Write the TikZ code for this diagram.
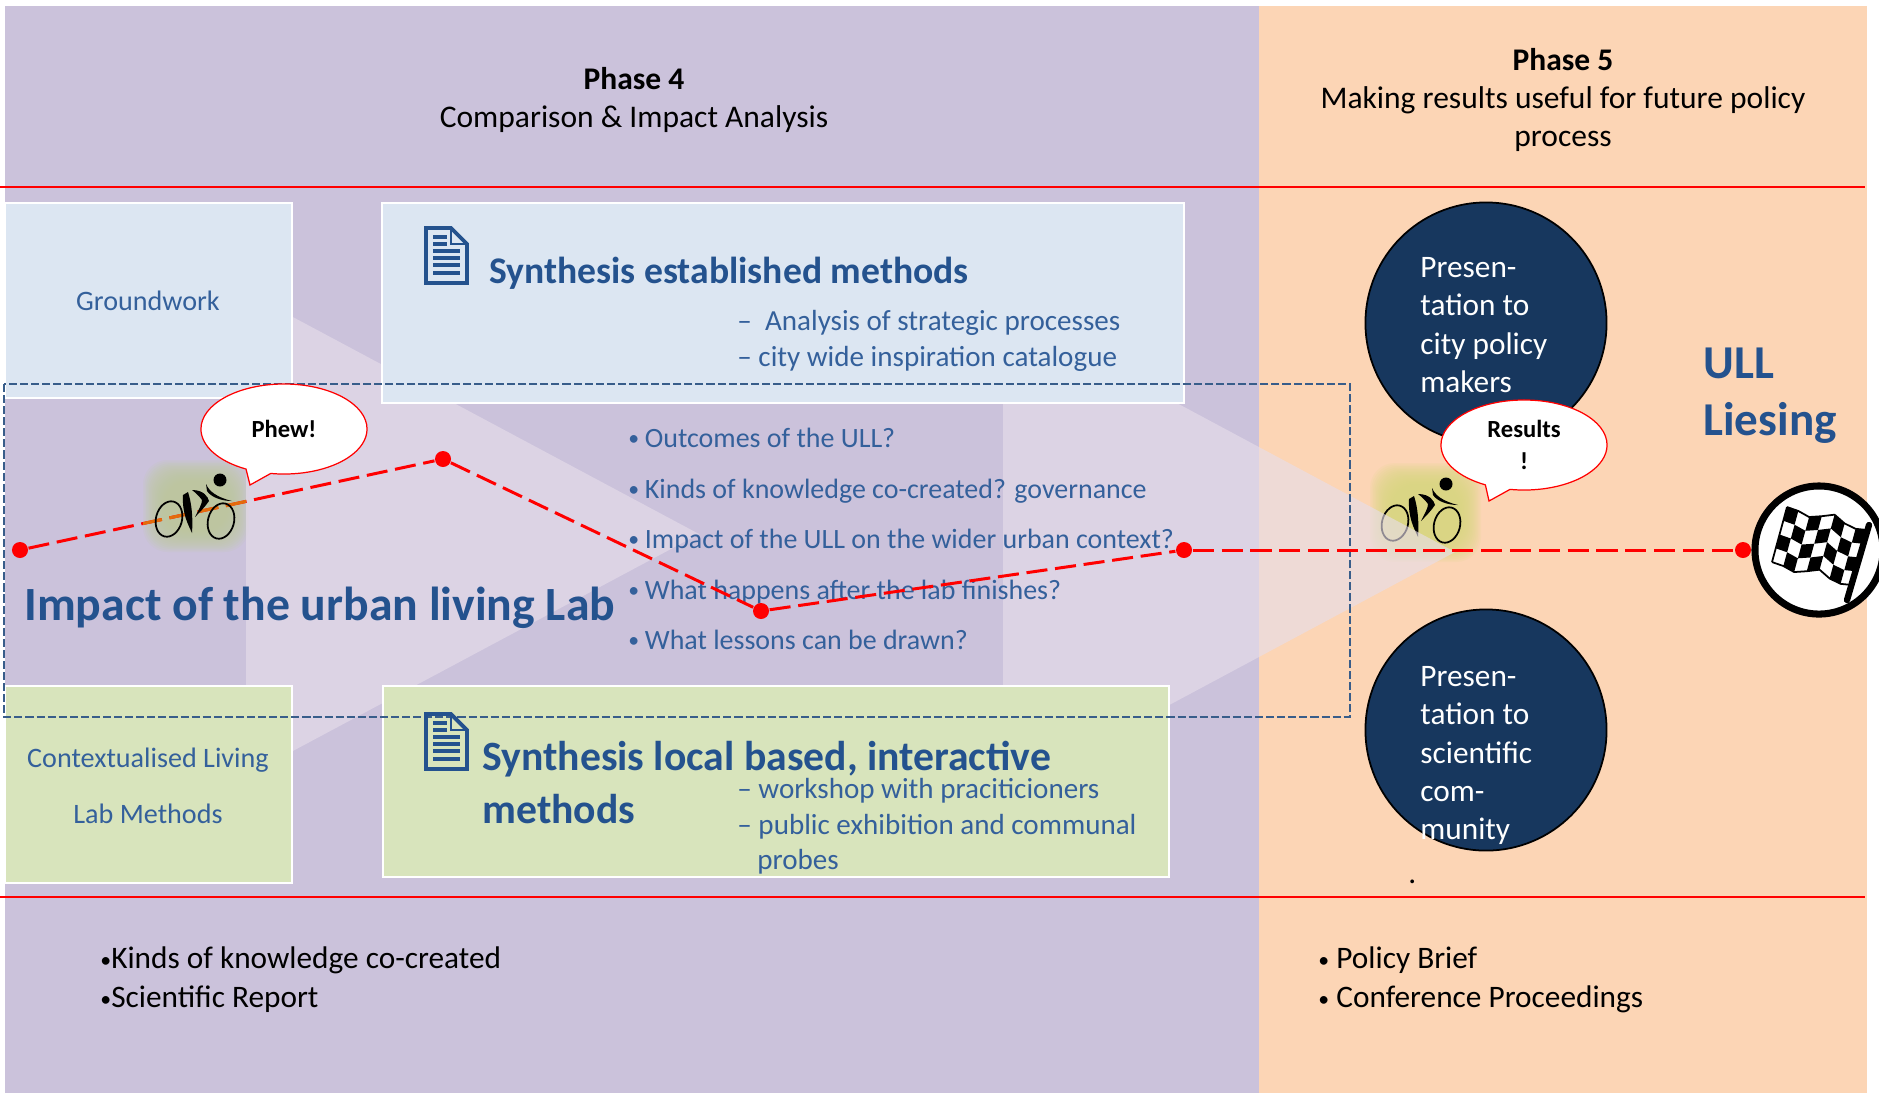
\documentclass[tikz,border=0pt]{standalone}
\usepackage{fontspec}
\setmainfont{Carlito}
\usetikzlibrary{shapes.callouts}
\definecolor{phasefour}{HTML}{CBC2DB}
\definecolor{phasefive}{HTML}{FCD5B5}
\definecolor{boxblue}{HTML}{DCE6F2}
\definecolor{boxgreen}{HTML}{D8E4BC}
\definecolor{darkcircle}{HTML}{17375E}
\definecolor{headblue}{HTML}{24528E}
\definecolor{bodyblue}{HTML}{34609B}
\definecolor{chevron}{RGB}{231,222,235}
\definecolor{glowone}{HTML}{BDCD9A}
\definecolor{glowtwo}{HTML}{D8D97F}
\definecolor{dashblue}{HTML}{385D8A}
\newcommand{\pxfont}[1]{\fontsize{#1}{#1}\selectfont}
\newcommand{\tinybullet}{\raisebox{.5pt}{\pxfont{6.2pt}•}}
\tikzset{
  cyclist/.pic={
    \draw[black,line width=.5pt] (0,0) ellipse [x radius=13,y radius=18,rotate=-15];
    \draw[black,line width=.5pt] (52,2) ellipse [x radius=13,y radius=18,rotate=-15];
    \fill[black] (51,-39) circle (6.5);
    \fill[black] (14,-24) .. controls (13,-5) and (19,5) .. (23,14) .. controls (24,0) and (23,-15) .. (19,-27) -- cycle;
    \fill[black] (23,-29) .. controls (35,-29) and (39,-22) .. (40,-18) .. controls (36,-12) and (30,-6) .. (26,-2) .. controls (30,-10) and (33,-15) .. (33,-19) .. controls (30,-23) and (27,-26) .. (23,-29);
    \fill[black] (37,-35) .. controls (40,-28) and (47,-22) .. (63,-18) .. controls (52,-18) and (42,-22) .. (38,-28) -- cycle;
  },
  docicon/.pic={
    \draw[headblue,line width=1.1pt,fill=none] (0,0) -- (25,0) -- (41,16) -- (41,55) -- (0,55) -- cycle;
    \draw[headblue,line width=.6pt] (25,0) -- (25,16) -- (41,16);
    \foreach \ya/\xb in {9/21,16/21,23/34,30/34,37/34,45/34}
      \draw[headblue,line width=1pt] (7,\ya) -- (\xb,\ya);
  }
}
\begin{document}
\begin{tikzpicture}[x=0.01cm,y=-0.01cm,
  head text/.style={font=\pxfont{8.96pt},black,align=center},
  body text/.style={font=\pxfont{8.27pt},bodyblue,anchor=west,text height=5.8pt,text depth=1.7pt},
  question text/.style={font=\pxfont{7.95pt},bodyblue,anchor=west,text height=5.6pt,text depth=1.6pt},
  box text/.style={font=\pxfont{8pt},bodyblue},
  title text/.style={font=\bfseries\pxfont{10.7pt},headblue,anchor=west},
  list text/.style={font=\pxfont{8.9pt},black,anchor=west,text height=6.2pt,text depth=1.8pt},
  circle text/.style={font=\pxfont{8.9pt},white,anchor=west,text height=6.2pt,text depth=1.8pt},
  bubble/.style={ellipse callout,draw=red,fill=white,line width=.35pt,minimum width=1.66cm,minimum height=.9cm,inner sep=0pt,callout pointer arc=18,font=\bfseries\pxfont{7pt},align=center},
  stop/.style={circle,fill=red,inner sep=0pt,minimum size=.16cm},
  trail/.style={red,line width=.85pt,dash pattern=on 6pt off 2.2pt},
  rule/.style={red,line width=.45pt},
  box/.style={draw=white,line width=.45pt}]
  \clip (0,0) rectangle (1879,1093);
  \fill[white] (0,0) rectangle (1879,1093);
  \fill[phasefour] (5,6) rectangle (1259,1093);
  \fill[phasefive] (1259,6) rectangle (1867,1093);

  % glow under the overlay
  \foreach \d in {0,1.5,...,21} {
    \fill[glowone,opacity=.12,rounded corners=7pt] (143+\d,460+\d) rectangle (249-\d,552-\d);
    \fill[glowtwo,opacity=.12,rounded corners=7pt] (1370+\d,463+\d) rectangle (1481-\d,562-\d);
  }
  \pic at (1395,523) {cyclist};

  \fill[chevron,opacity=.62] (246,292) -- (699,534) -- (246,776) -- cycle;
  \fill[chevron,opacity=.62] (1003,310) -- (1455,552) -- (1003,794) -- cycle;

  \draw[box,fill=boxblue] (5,203) rectangle (292,398);
  \draw[box,fill=boxblue] (382,203) rectangle (1184,403);
  \draw[box,line width=.8pt,fill=boxgreen] (5,686) rectangle (292,883);
  \draw[box,fill=boxgreen] (383,686) rectangle (1169,877);

  \draw[rule] (0,187) -- (1865,187);
  \draw[rule] (0,897) -- (1865,897);

  \draw[dashblue,line width=.75pt,dash pattern=on 2.3pt off .85pt] (4,384) rectangle (1350,717);

  \node[circle,fill=darkcircle,draw=black,line width=.5pt,minimum size=2.41cm] (cityring) at (1486,323) {};
  \node[circle,fill=darkcircle,draw=black,line width=.5pt,minimum size=2.41cm] (sciencering) at (1486,730) {};

  \pic at (426,228) {docicon};
  \pic at (426,714) {docicon};

  \node[head text] (phasefourtext) at (634,100) {\textbf{Phase 4}\\[1.9pt]Comparison \& Impact Analysis};
  \node[head text] (phasefivetext) at (1563,100) {\textbf{Phase 5}\\[1.9pt]Making results useful for future policy\\[1.9pt]process};

  \node[box text] (groundwork) at (148,301) {Groundwork};
  \node[box text] (contextone) at (148,760) {Contextualised Living};
  \node[box text] (contexttwo) at (148,814) {Lab Methods};

  \node[title text] (synthone) at (477,273) {Synthesis established methods};
  \node[body text] (strategic) at (725,323) {–\ \ Analysis of strategic processes};
  \node[body text] (catalogue) at (725,359) {– city wide inspiration catalogue};

  \node[question text] (qone) at (616,440) {\tinybullet\hspace{1.6pt}Outcomes of the ULL?};
  \node[question text] (qtwo) at (616,491) {\tinybullet\hspace{1.6pt}Kinds of knowledge co-created? governance};
  \node[question text] (qthree) at (616,541) {\tinybullet\hspace{1.6pt}Impact of the ULL on the wider urban context?};
  \node[question text] (qfour) at (616,592) {\tinybullet\hspace{1.6pt}What happens after the lab finishes?};
  \node[question text] (qfive) at (616,642) {\tinybullet\hspace{1.6pt}What lessons can be drawn?};

  \node[font=\bfseries\pxfont{13.57pt},headblue,anchor=west] (impact) at (12,608) {Impact of the urban living Lab};

  \node[title text,font=\bfseries\pxfont{11.85pt}] (synthtwo) at (470,759) {Synthesis local based, interactive};
  \node[title text,font=\bfseries\pxfont{11.85pt}] (synththree) at (470,809) {methods};
  \node[body text] (workshop) at (725,791) {– workshop with praciticioners};
  \node[body text] (exhibition) at (725,827) {– public exhibition and communal};
  \node[body text] (probes) at (745,862) {probes};

  \node[list text] (kinds) at (88,961) {\tinybullet Kinds of knowledge co-created};
  \node[list text] (report) at (88,1000) {\tinybullet Scientific Report};
  \node[list text] (brief) at (1306,961) {\tinybullet\ Policy Brief};
  \node[list text] (proceedings) at (1306,1000) {\tinybullet\ Conference Proceedings};

  \node[circle text] (cone) at (1408,270) {Presen-};
  \node[circle text] (ctwo) at (1408,308) {tation to};
  \node[circle text] (cthree) at (1408,347) {city policy};
  \node[circle text] (cfour) at (1408,385) {makers};
  \node[circle text] (sone) at (1408,679) {Presen-};
  \node[circle text] (stwo) at (1408,717) {tation to};
  \node[circle text] (sthree) at (1408,756) {scientific};
  \node[circle text] (sfour) at (1408,794) {com-};
  \node[circle text] (sfive) at (1408,832) {munity};
  \node[list text] (dot) at (1396,876) {.};

  \node[font=\bfseries\pxfont{13.4pt},headblue,anchor=west] (ull) at (1691,363) {ULL};
  \node[font=\bfseries\pxfont{13.4pt},headblue,anchor=west] (liesing) at (1691,423) {Liesing};

  \node[bubble,callout absolute pointer={(250,485)}] (phew) at (284,429) {Phew!};
  \node[bubble,callout absolute pointer={(1489,501)}] (results) at (1524,445) {Results\\[2.2pt]!};

  % route of the rider
  \node[stop] (start) at (20,550) {};
  \node[stop] (peak) at (443,459) {};
  \node[stop] (low) at (761,611) {};
  \node[stop] (flat) at (1184,550) {};
  \node[stop] (finish) at (1743,550) {};
  \path[trail]
    (start) edge (peak)
    (peak) edge (low)
    (low) edge (flat)
    (flat) edge (finish);
  \begin{scope}
    \clip (143,460) rectangle (246,552);
    \draw[trail,color={rgb,255:red,228;green,108;blue,10}] (start) -- (peak);
  \end{scope}
  \pic at (169,519) {cyclist};

  % finish flag
  \node[circle,fill=white,draw=black,line width=2pt,minimum size=1.28cm] (flagring) at (1819,550) {};
  \begin{scope}[shift={(1787,507)},x={(.117cm,-.026cm)},y={(-.0375cm,-.1375cm)}]
    \foreach \i/\a/\b in {0/0/.1,1/.1/.35,2/.35/.1,3/.1/-.2,4/-.2/.25,5/.25/.45,6/.45/.35} {
      \foreach \j in {0,1,2,3} {
        \pgfmathtruncatemacro{\cell}{mod(\i+\j,2)}
        \ifnum\cell=0
          \fill[black] (\i,\j+\a) -- (\i+1,\j+\b) -- (\i+1,\j+1+\b) -- (\i,\j+1+\a) -- cycle;
        \fi
      }
    }
    \draw[black,line width=.5pt] (0,0) -- (1,.1) -- (2,.35) -- (3,.1) -- (4,-.2) -- (5,.25) -- (6,.45) -- (7,.35);
    \draw[black,line width=.5pt] (0,4) -- (1,4.1) -- (2,4.35) -- (3,4.1) -- (4,3.8) -- (5,4.25) -- (6,4.45) -- (7,4.35);
    \draw[black,line width=.5pt] (0,0) -- (0,4);
  \end{scope}
  \draw[black,line width=1.8pt,line cap=round] (1869,525) -- (1847,600);
\end{tikzpicture}
\end{document}
